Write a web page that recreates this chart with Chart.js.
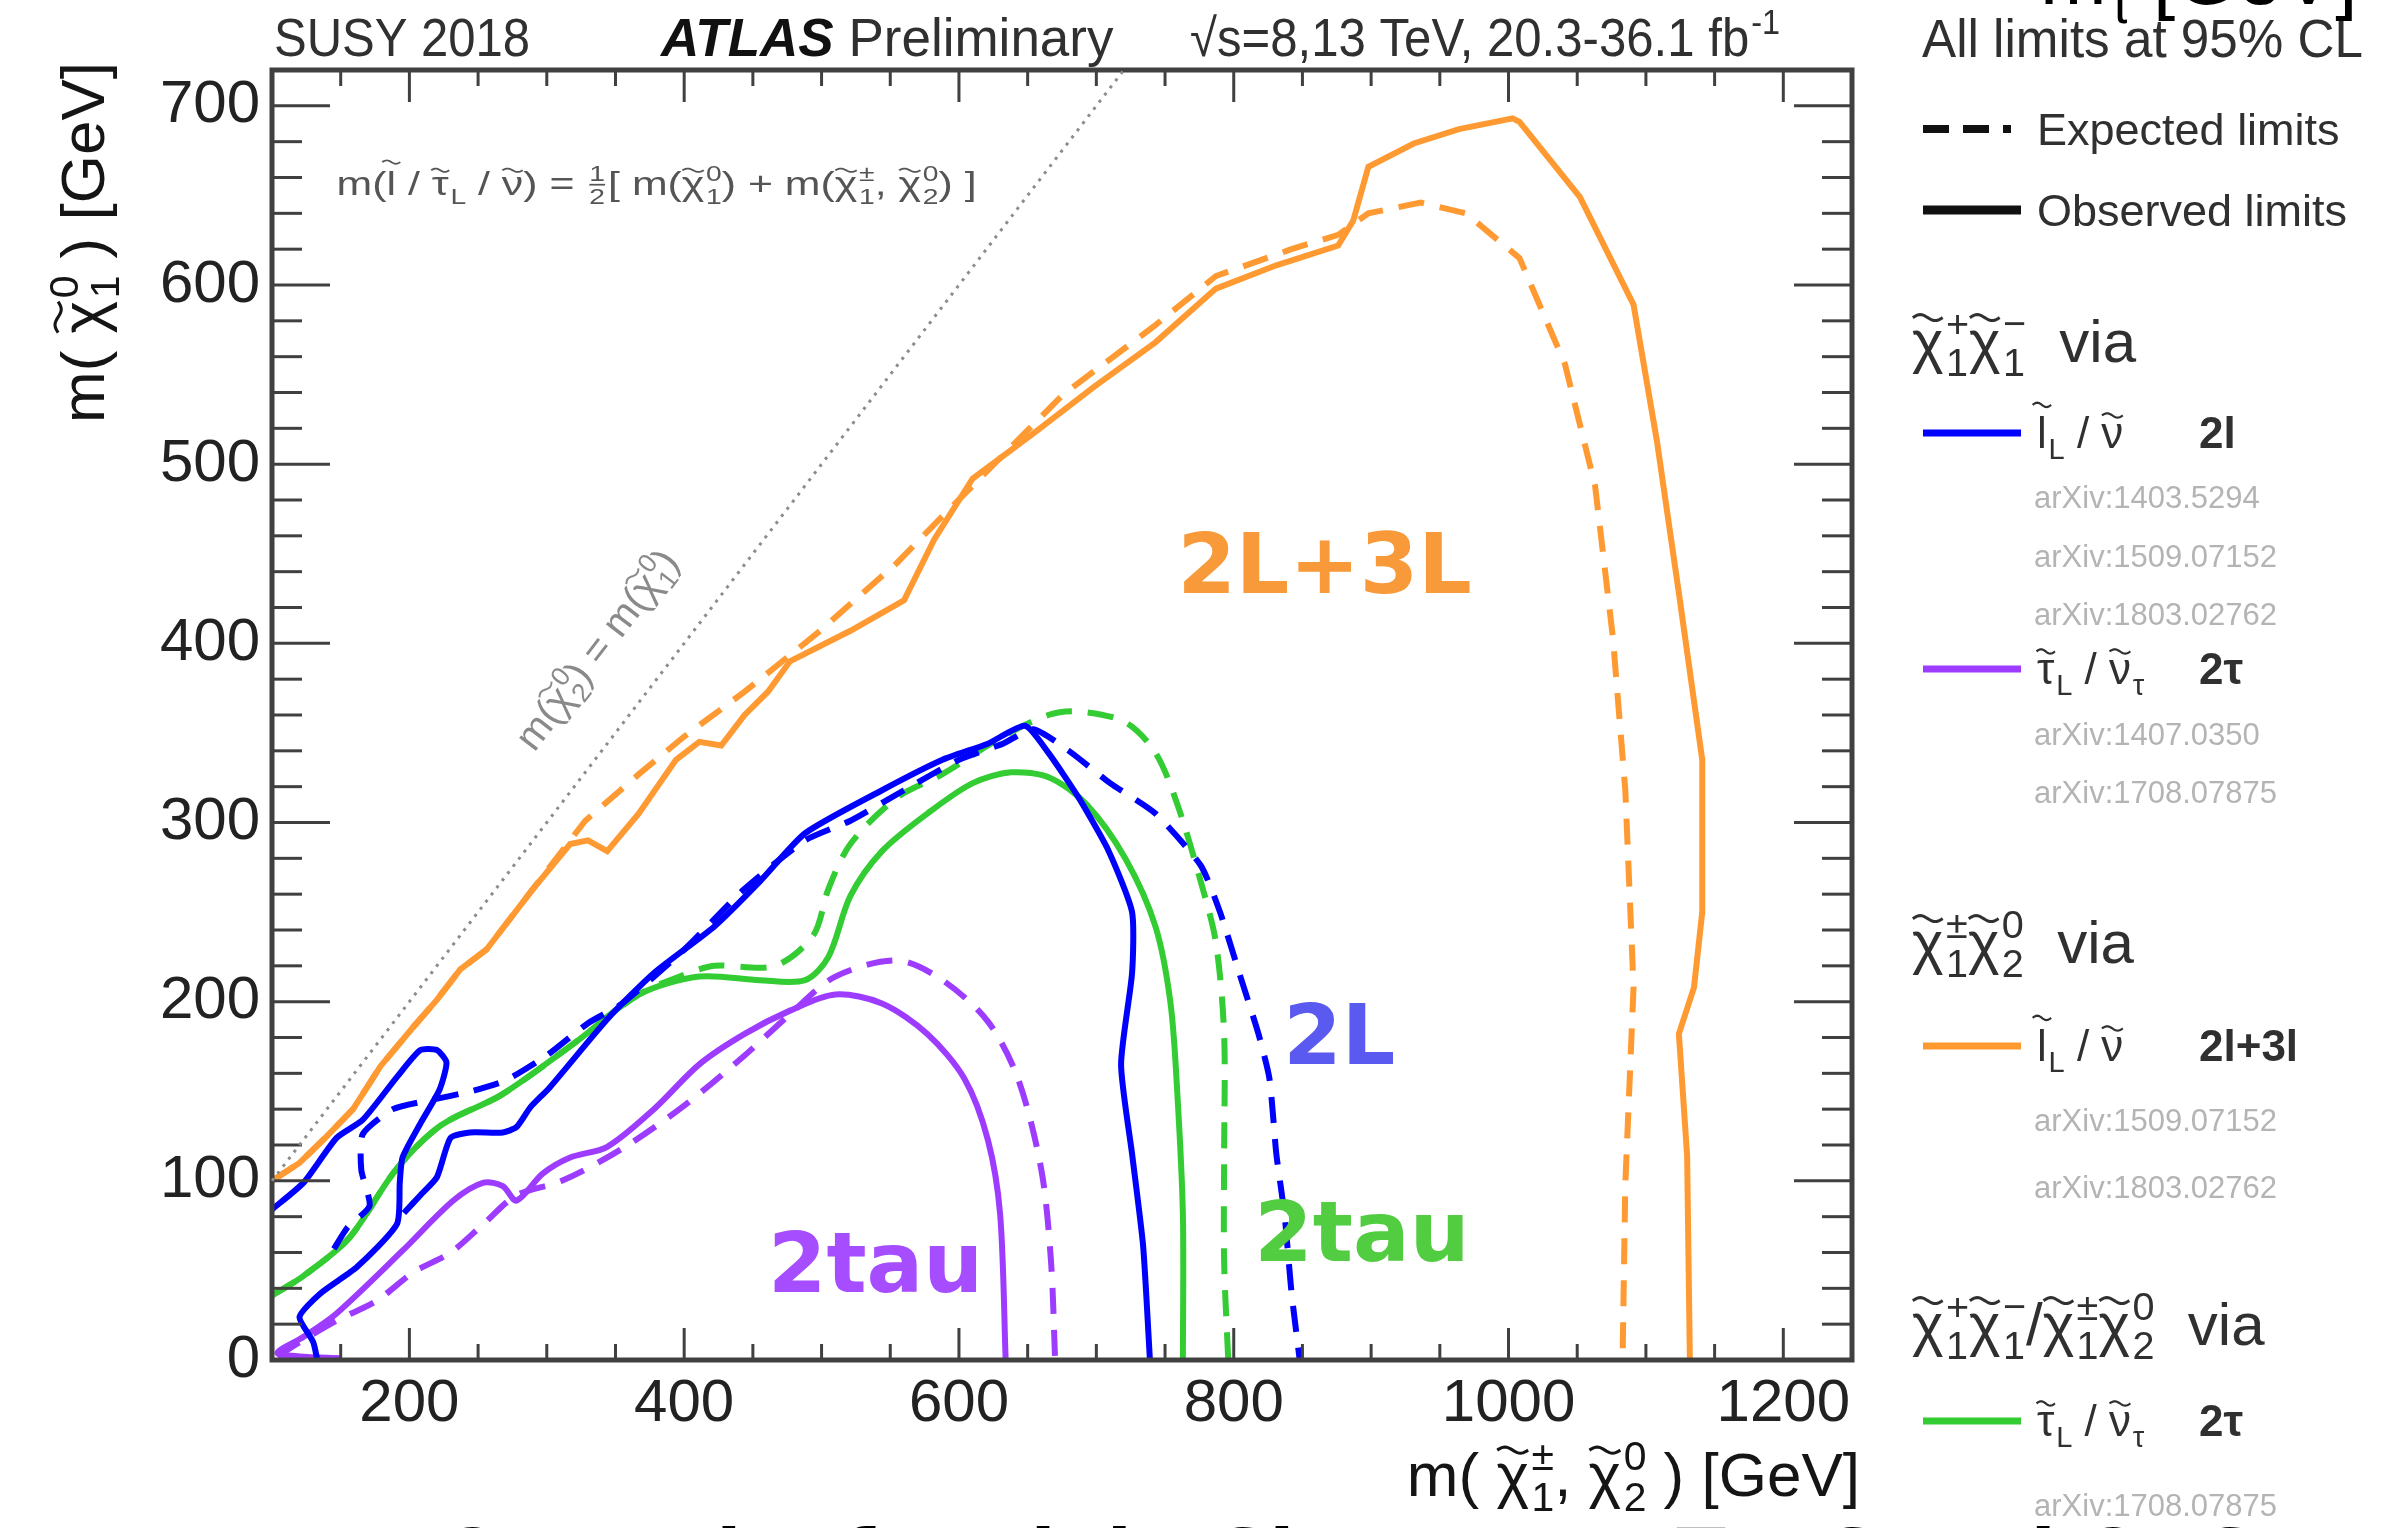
<!DOCTYPE html>
<html>
<head>
<meta charset="utf-8">
<script src="https://cdn.jsdelivr.net/npm/chart.js@4.4.1/dist/chart.umd.min.js"></script>
<style>
  html, body { margin: 0; padding: 0; background: #fff; }
  canvas { display: block; }
</style>
</head>
<body>
<canvas id="limitsChart" width="2383" height="1528"></canvas>
<script>
// Tick labels
const xTicks = [200, 400, 600, 800, 1000, 1200];
const yTicks = [0, 100, 200, 300, 400, 500, 600, 700];

// m(chi1+-, chi20) vs m(chi10) exclusion contours, [x, y] in GeV
// 2l+3l via sleptons
const orangeObs = [[100,100],[120,110],[140,125],[159,140],[179,164],[203,186],[220,201],[237,218],[256,229],[289,262],[317,288],[330,290],[344,284],[367,305],[394,335],[411,345],[427,343],[444,360],[461,373],[477,390],[521,407],[560,424],[582,458],[610,492],[654,517],[698,543],[743,568],[787,598],[831,611],[876,622],[887,636],[898,666],[931,679],[964,687],[1003,693],[1008,691],[1052,649],[1091,589],[1108,513],[1124,428],[1141,335],[1141,250],[1135,208],[1124,182],[1130,114],[1132,0]];
const orangeExp = [[100,100],[120,110],[140,125],[159,140],[179,164],[203,186],[220,201],[237,218],[256,229],[289,262],[328,301],[367,327],[400,348],[444,373],[499,407],[555,445],[588,471],[632,505],[676,539],[742,577],[787,605],[842,620],[876,628],[898,640],[936,646],[969,640],[1008,615],[1041,556],[1063,488],[1076,403],[1085,318],[1091,208],[1085,98],[1083,0]];

// 2l via sleptons (two pieces of the observed contour)
const blueObsLoop = [[100,84],[123,99],[147,124],[166,134],[191,158],[208,173],[220,173],[227,166],[222,151],[208,132],[195,113],[193,99],[191,76],[162,52],[135,37],[120,24],[130,10],[133,0]];
const blueObsMain = [[196,82],[208,92],[220,102],[230,124],[244,127],[268,127],[278,130],[288,141],[302,152],[345,191],[378,216],[422,242],[455,267],[488,294],[544,318],[588,335],[621,344],[648,354],[665,339],[687,314],[709,284],[726,250],[726,216],[718,165],[726,115],[734,64],[739,0]];
const blueExp = [[145,62],[155,74],[171,86],[165,106],[166,126],[188,140],[215,145],[245,150],[270,156],[300,170],[330,188],[355,199],[400,229],[444,263],[488,290],[521,301],[560,318],[600,335],[632,344],[654,352],[680,340],[710,322],[743,305],[776,276],[790,250],[804,216],[818,182],[826,157],[831,115],[837,81],[842,38],[848,0]];

// 2tau via staus, chargino pair
const purpleObs = [[150,1],[120,2],[104,4],[123,13],[147,26],[195,61],[232,89],[254,99],[268,97],[278,89],[297,104],[317,113],[344,119],[378,140],[411,165],[444,182],[477,195],[510,204],[544,199],[577,182],[604,157],[621,123],[630,81],[634,0]];
const purpleExp = [[104,2],[118,9],[147,22],[176,33],[203,49],[230,60],[254,76],[278,92],[311,100],[355,118],[400,142],[444,170],[477,193],[510,214],[555,223],[588,212],[621,189],[643,157],[660,106],[667,55],[670,0]];

// 2tau via staus, combined
const greenObs = [[100,36],[123,47],[156,68],[190,106],[223,131],[267,148],[322,178],[367,204],[411,214],[455,212],[488,212],[505,225],[521,259],[544,284],[577,305],[610,322],[638,328],[666,325],[693,310],[721,280],[743,242],[754,199],[759,148],[763,81],[763,0]];
const greenExp = [[100,36],[123,47],[156,68],[190,106],[223,131],[267,148],[322,178],[367,204],[400,215],[422,220],[466,220],[494,237],[505,263],[521,288],[555,314],[588,327],[632,348],[665,360],[687,362],[721,356],[743,339],[759,310],[776,267],[787,233],[793,182],[793,115],[793,55],[796,0]];

const FONT = '"Liberation Sans", Arial, "DejaVu Sans", sans-serif';
const BOLD_FONT = '"DejaVu Sans", "Liberation Sans", sans-serif';

const ORANGE = '#ff9a33', BLUE = '#0000ff', PURPLE = '#9d3cff', GREEN = '#33cc33';

// sparticle symbols: base glyph with a drawn tilde and optional scripts
const chi = (sup, sub) => ({ t: 'χ', tilde: 0.74, sup, sub });
const slep = sub => ({ t: 'l', tilde: 0.98, sub });
const snu = sub => ({ t: 'ν', tilde: 0.74, sub });
const stau = sub => ({ t: 'τ', tilde: 0.74, sub });

function pts(arr) {
  return arr.map(([x, y]) => ({ x, y }));
}

function setFont(ctx, size, weight, style, family) {
  ctx.font = `${style || 'normal'} ${weight || 'normal'} ${size}px ${family || FONT}`;
}

function tilde(ctx, cx, cy, w, h, lw) {
  ctx.beginPath();
  for (let i = 0; i <= 20; i++) {
    const t = i / 20;
    const x = cx - w / 2 + t * w;
    const y = cy - Math.sin(t * 2 * Math.PI) * h / 2;
    if (i) ctx.lineTo(x, y); else ctx.moveTo(x, y);
  }
  ctx.lineWidth = lw;
  ctx.stroke();
}

// Draws a run of text with super/subscripts; returns its width
function rich(ctx, parts, x, y, size, o = {}) {
  const sm = size * 0.66;
  const w = o.weight || 'normal';
  const pieces = [];
  let total = 0;
  parts.forEach(p => {
    if (typeof p === 'string') p = { t: p };
    if (p.frac) {
      setFont(ctx, sm, w);
      const fw = Math.max(ctx.measureText(p.frac[0]).width, ctx.measureText(p.frac[1]).width) + size * 0.14;
      pieces.push({ p, dx: total, fw });
      total += fw;
      return;
    }
    setFont(ctx, size, p.weight || w, p.style);
    const bw = ctx.measureText(p.t).width;
    setFont(ctx, sm, w);
    const sw = Math.max(p.sup ? ctx.measureText(p.sup).width : 0, p.sub ? ctx.measureText(p.sub).width : 0);
    const fw = bw + (sw ? sw + size * 0.04 : 0);
    pieces.push({ p, dx: total, bw, fw });
    total += fw;
  });
  const sx = o.width ? o.width / total : (o.sx || 1);
  const span = total * sx;
  let x0 = x;
  if (o.align === 'right') x0 = x - span;
  else if (o.align === 'center') x0 = x - span / 2;
  ctx.save();
  ctx.translate(x0, y);
  ctx.scale(sx, 1);
  ctx.fillStyle = o.color || '#151515';
  ctx.strokeStyle = ctx.fillStyle;
  ctx.textAlign = 'left';
  ctx.textBaseline = 'alphabetic';
  pieces.forEach(({ p, dx, bw, fw }) => {
    if (p.frac) {
      setFont(ctx, sm, w);
      ctx.textAlign = 'center';
      ctx.fillText(p.frac[0], dx + fw / 2, -size * 0.42);
      ctx.fillText(p.frac[1], dx + fw / 2, size * 0.26);
      ctx.fillRect(dx + size * 0.07, -size * 0.34, fw - size * 0.14, Math.max(1.5, size * 0.05));
      ctx.textAlign = 'left';
      return;
    }
    setFont(ctx, size, p.weight || w, p.style);
    ctx.fillText(p.t, dx, 0);
    if (p.tilde) {
      tilde(ctx, dx + bw * 0.5, -size * p.tilde, Math.max(bw * 0.95, size * 0.42), size * 0.1, Math.max(1.5, size * 0.05));
    }
    setFont(ctx, sm, w);
    if (p.sup) ctx.fillText(p.sup, dx + bw + size * 0.04, -size * 0.42);
    if (p.sub) ctx.fillText(p.sub, dx + bw + size * 0.04, size * 0.24);
  });
  ctx.restore();
  return span;
}

function line(ctx, x1, y1, x2, y2) {
  ctx.beginPath();
  ctx.moveTo(x1, y1);
  ctx.lineTo(x2, y2);
  ctx.stroke();
}

// ROOT-style frame with inward ticks on all four sides
const framePlugin = {
  id: 'frame',
  afterDatasetsDraw(chart) {
    const { ctx, chartArea: a } = chart;
    const xs = chart.scales.x, ys = chart.scales.y;
    ctx.save();
    ctx.strokeStyle = '#404040';
    ctx.lineWidth = 3;
    for (let v = 100; v <= 1250; v += 50) {
      const px = xs.getPixelForValue(v);
      const len = v % 200 === 0 ? 32 : 16;
      line(ctx, px, a.bottom, px, a.bottom - len);
      line(ctx, px, a.top, px, a.top + len);
    }
    for (let v = 0; v <= 720; v += 20) {
      const py = ys.getPixelForValue(v);
      const len = v % 100 === 0 ? 58 : 30;
      line(ctx, a.left, py, a.left + len, py);
      line(ctx, a.right, py, a.right - len, py);
    }
    ctx.lineWidth = 5;
    ctx.strokeRect(a.left, a.top, a.right - a.left, a.bottom - a.top);
    ctx.restore();
  }
};

// Titles, annotations and the side legend
const textPlugin = {
  id: 'texts',
  afterDraw(chart) {
    const { ctx, chartArea: a } = chart;
    const xs = chart.scales.x, ys = chart.scales.y;
    const px = v => xs.getPixelForValue(v), py = v => ys.getPixelForValue(v);
    ctx.save();

    // diagonal m(chi20) = m(chi10)
    ctx.strokeStyle = '#8c8c8c';
    ctx.lineWidth = 3;
    ctx.setLineDash([3, 6]);
    line(ctx, px(100), py(100), px(720), py(720));
    ctx.setLineDash([]);

    const ang = Math.atan2(py(720) - py(100), px(720) - px(100));
    ctx.save();
    ctx.translate(px(344), py(392));
    ctx.rotate(ang);
    rich(ctx, ['m(', chi('0', '2'), ') = m(', chi('0', '1'), ')'], 0, 0, 40, { align: 'center', color: '#8a8a8a' });
    ctx.restore();

    rich(ctx, ['m(', slep(), ' / ', stau('L'), ' / ', snu(), ') = ', { frac: ['1', '2'] }, '[ m(', chi('0', '1'), ') + m(', chi('±', '1'), ', ', chi('0', '2'), ') ]'],
      px(147), py(650), 34, { width: 640, color: '#555' });

    // region labels
    ctx.textAlign = 'left';
    ctx.textBaseline = 'alphabetic';
    setFont(ctx, 84, 'bold', 'normal', BOLD_FONT);
    ctx.fillStyle = '#f89a3a';
    ctx.fillText('2L+3L', px(759), py(428));
    ctx.fillStyle = '#5a5af0';
    ctx.fillText('2L', px(836), py(165));
    ctx.fillStyle = '#a64dff';
    ctx.fillText('2tau', px(461), py(38));
    ctx.fillStyle = '#52cc40';
    ctx.fillText('2tau', px(815), py(55));

    // axis titles
    rich(ctx, ['m( ', chi('±', '1'), ', ', chi('0', '2'), ' ) [GeV]'], a.right + 8, 1496, 62, { align: 'right' });
    ctx.save();
    ctx.translate(104, 62);
    ctx.rotate(-Math.PI / 2);
    rich(ctx, ['m( ', chi('0', '1'), ' ) [GeV]'], 0, 0, 62, { align: 'right' });
    ctx.restore();

    // header line
    rich(ctx, ['SUSY 2018'], 274, 56, 53, { width: 256, color: '#303030' });
    const atlasW = rich(ctx, [{ t: 'ATLAS', weight: 'bold', style: 'italic' }], 661, 56, 53, { color: '#111' });
    rich(ctx, [' Preliminary'], 661 + atlasW, 56, 53, { color: '#303030' });
    rich(ctx, ['√s=8,13 TeV, 20.3-36.1 fb', { t: '', sup: '-1' }], 1190, 56, 53, { width: 590, color: '#303030' });
    rich(ctx, ['All limits at 95% CL'], 1922, 57, 53, { width: 441, color: '#303030' });
    rich(ctx, ['m', { t: '', sub: 'τ' }, ' [GeV]'], 2040, 4, 80, { color: '#000' });

    // legend: line styles
    const lx0 = 1923, lx1 = 2021, tx = 2037, tagX = 2199;
    ctx.strokeStyle = '#111';
    ctx.lineWidth = 8;
    ctx.setLineDash([26, 14, 26, 14, 8]);
    line(ctx, lx0, 129, lx1, 129);
    ctx.setLineDash([]);
    rich(ctx, ['Expected limits'], tx, 145, 45, { color: '#303030' });
    ctx.lineWidth = 9;
    line(ctx, lx0, 210, lx1, 210);
    rich(ctx, ['Observed limits'], tx, 226, 45, { color: '#303030' });

    const arxiv = (txt, y) => rich(ctx, [txt], tx - 3, y + 11, 31, { color: '#b4b4b4' });
    const entry = (color, label, tag, y) => {
      ctx.strokeStyle = color;
      ctx.lineWidth = 7;
      line(ctx, lx0, y, lx1, y);
      rich(ctx, label, tx, y + 15, 44, { color: '#303030' });
      rich(ctx, [tag], tagX, y + 15, 44, { color: '#303030', weight: 'bold' });
    };
    const sleptonLabel = [slep('L'), ' / ', snu()];
    const stauLabel = [stau('L'), ' / ', snu('τ')];

    rich(ctx, [chi('+', '1'), chi('−', '1'), '  via'], 1912, 362, 60, { color: '#303030' });
    entry(BLUE, sleptonLabel, '2l', 433);
    arxiv('arXiv:1403.5294', 497);
    arxiv('arXiv:1509.07152', 556);
    arxiv('arXiv:1803.02762', 614);
    entry(PURPLE, stauLabel, '2τ', 669);
    arxiv('arXiv:1407.0350', 734);
    arxiv('arXiv:1708.07875', 792);

    rich(ctx, [chi('±', '1'), chi('0', '2'), '  via'], 1912, 963, 60, { color: '#303030' });
    entry(ORANGE, sleptonLabel, '2l+3l', 1046);
    arxiv('arXiv:1509.07152', 1120);
    arxiv('arXiv:1803.02762', 1187);

    rich(ctx, [chi('+', '1'), chi('−', '1'), '/', chi('±', '1'), chi('0', '2'), '  via'], 1912, 1345, 60, { color: '#303030' });
    entry(GREEN, stauLabel, '2τ', 1421);
    arxiv('arXiv:1708.07875', 1505);

    // slide caption running off the bottom edge
    setFont(ctx, 72, 'bold', 'normal', BOLD_FONT);
    ctx.fillStyle = '#000';
    ctx.textAlign = 'left';
    ctx.fillText('LHC Results for Light Sleptons: ATLAS and CMS', 334, 1580);

    ctx.restore();
  }
};

function contour(data, color, dashed, tension) {
  return {
    data: pts(data),
    borderColor: color,
    borderWidth: 6,
    borderDash: dashed ? [26, 16] : [],
    showLine: true,
    fill: false,
    pointRadius: 0,
    tension: tension
  };
}

const ctx = document.getElementById('limitsChart').getContext('2d');
new Chart(ctx, {
  type: 'scatter',
  data: {
    datasets: [
      contour(orangeObs, ORANGE, false, 0),
      contour(orangeExp, ORANGE, true, 0),
      contour(blueObsLoop, BLUE, false, 0.2),
      contour(blueObsMain, BLUE, false, 0.2),
      contour(blueExp, BLUE, true, 0.2),
      contour(greenObs, GREEN, false, 0.3),
      contour(greenExp, GREEN, true, 0.3),
      contour(purpleObs, PURPLE, false, 0.3),
      contour(purpleExp, PURPLE, true, 0.3)
    ]
  },
  options: {
    responsive: false,
    animation: false,
    events: [],
    layout: { padding: { left: 0, top: 70, right: 531, bottom: 0 } },
    scales: {
      x: {
        type: 'linear',
        min: 100,
        max: 1250,
        grid: { display: false, drawTicks: false },
        border: { display: false },
        afterBuildTicks: scale => { scale.ticks = xTicks.map(v => ({ value: v })); },
        afterFit: scale => { scale.height = 168; },
        ticks: {
          padding: 8,
          maxRotation: 0,
          autoSkip: false,
          color: '#222',
          font: { family: FONT, size: 60 },
          callback: value => String(value)
        }
      },
      y: {
        type: 'linear',
        min: 0,
        max: 720,
        grid: { display: false, drawTicks: false },
        border: { display: false },
        afterBuildTicks: scale => { scale.ticks = yTicks.map(v => ({ value: v })); },
        afterFit: scale => { scale.width = 272; },
        ticks: {
          padding: 12,
          autoSkip: false,
          color: '#222',
          font: { family: FONT, size: 60 },
          callback: value => String(value)
        }
      }
    },
    plugins: {
      legend: { display: false },
      tooltip: { enabled: false }
    }
  },
  plugins: [framePlugin, textPlugin]
});
</script>
</body>
</html>
